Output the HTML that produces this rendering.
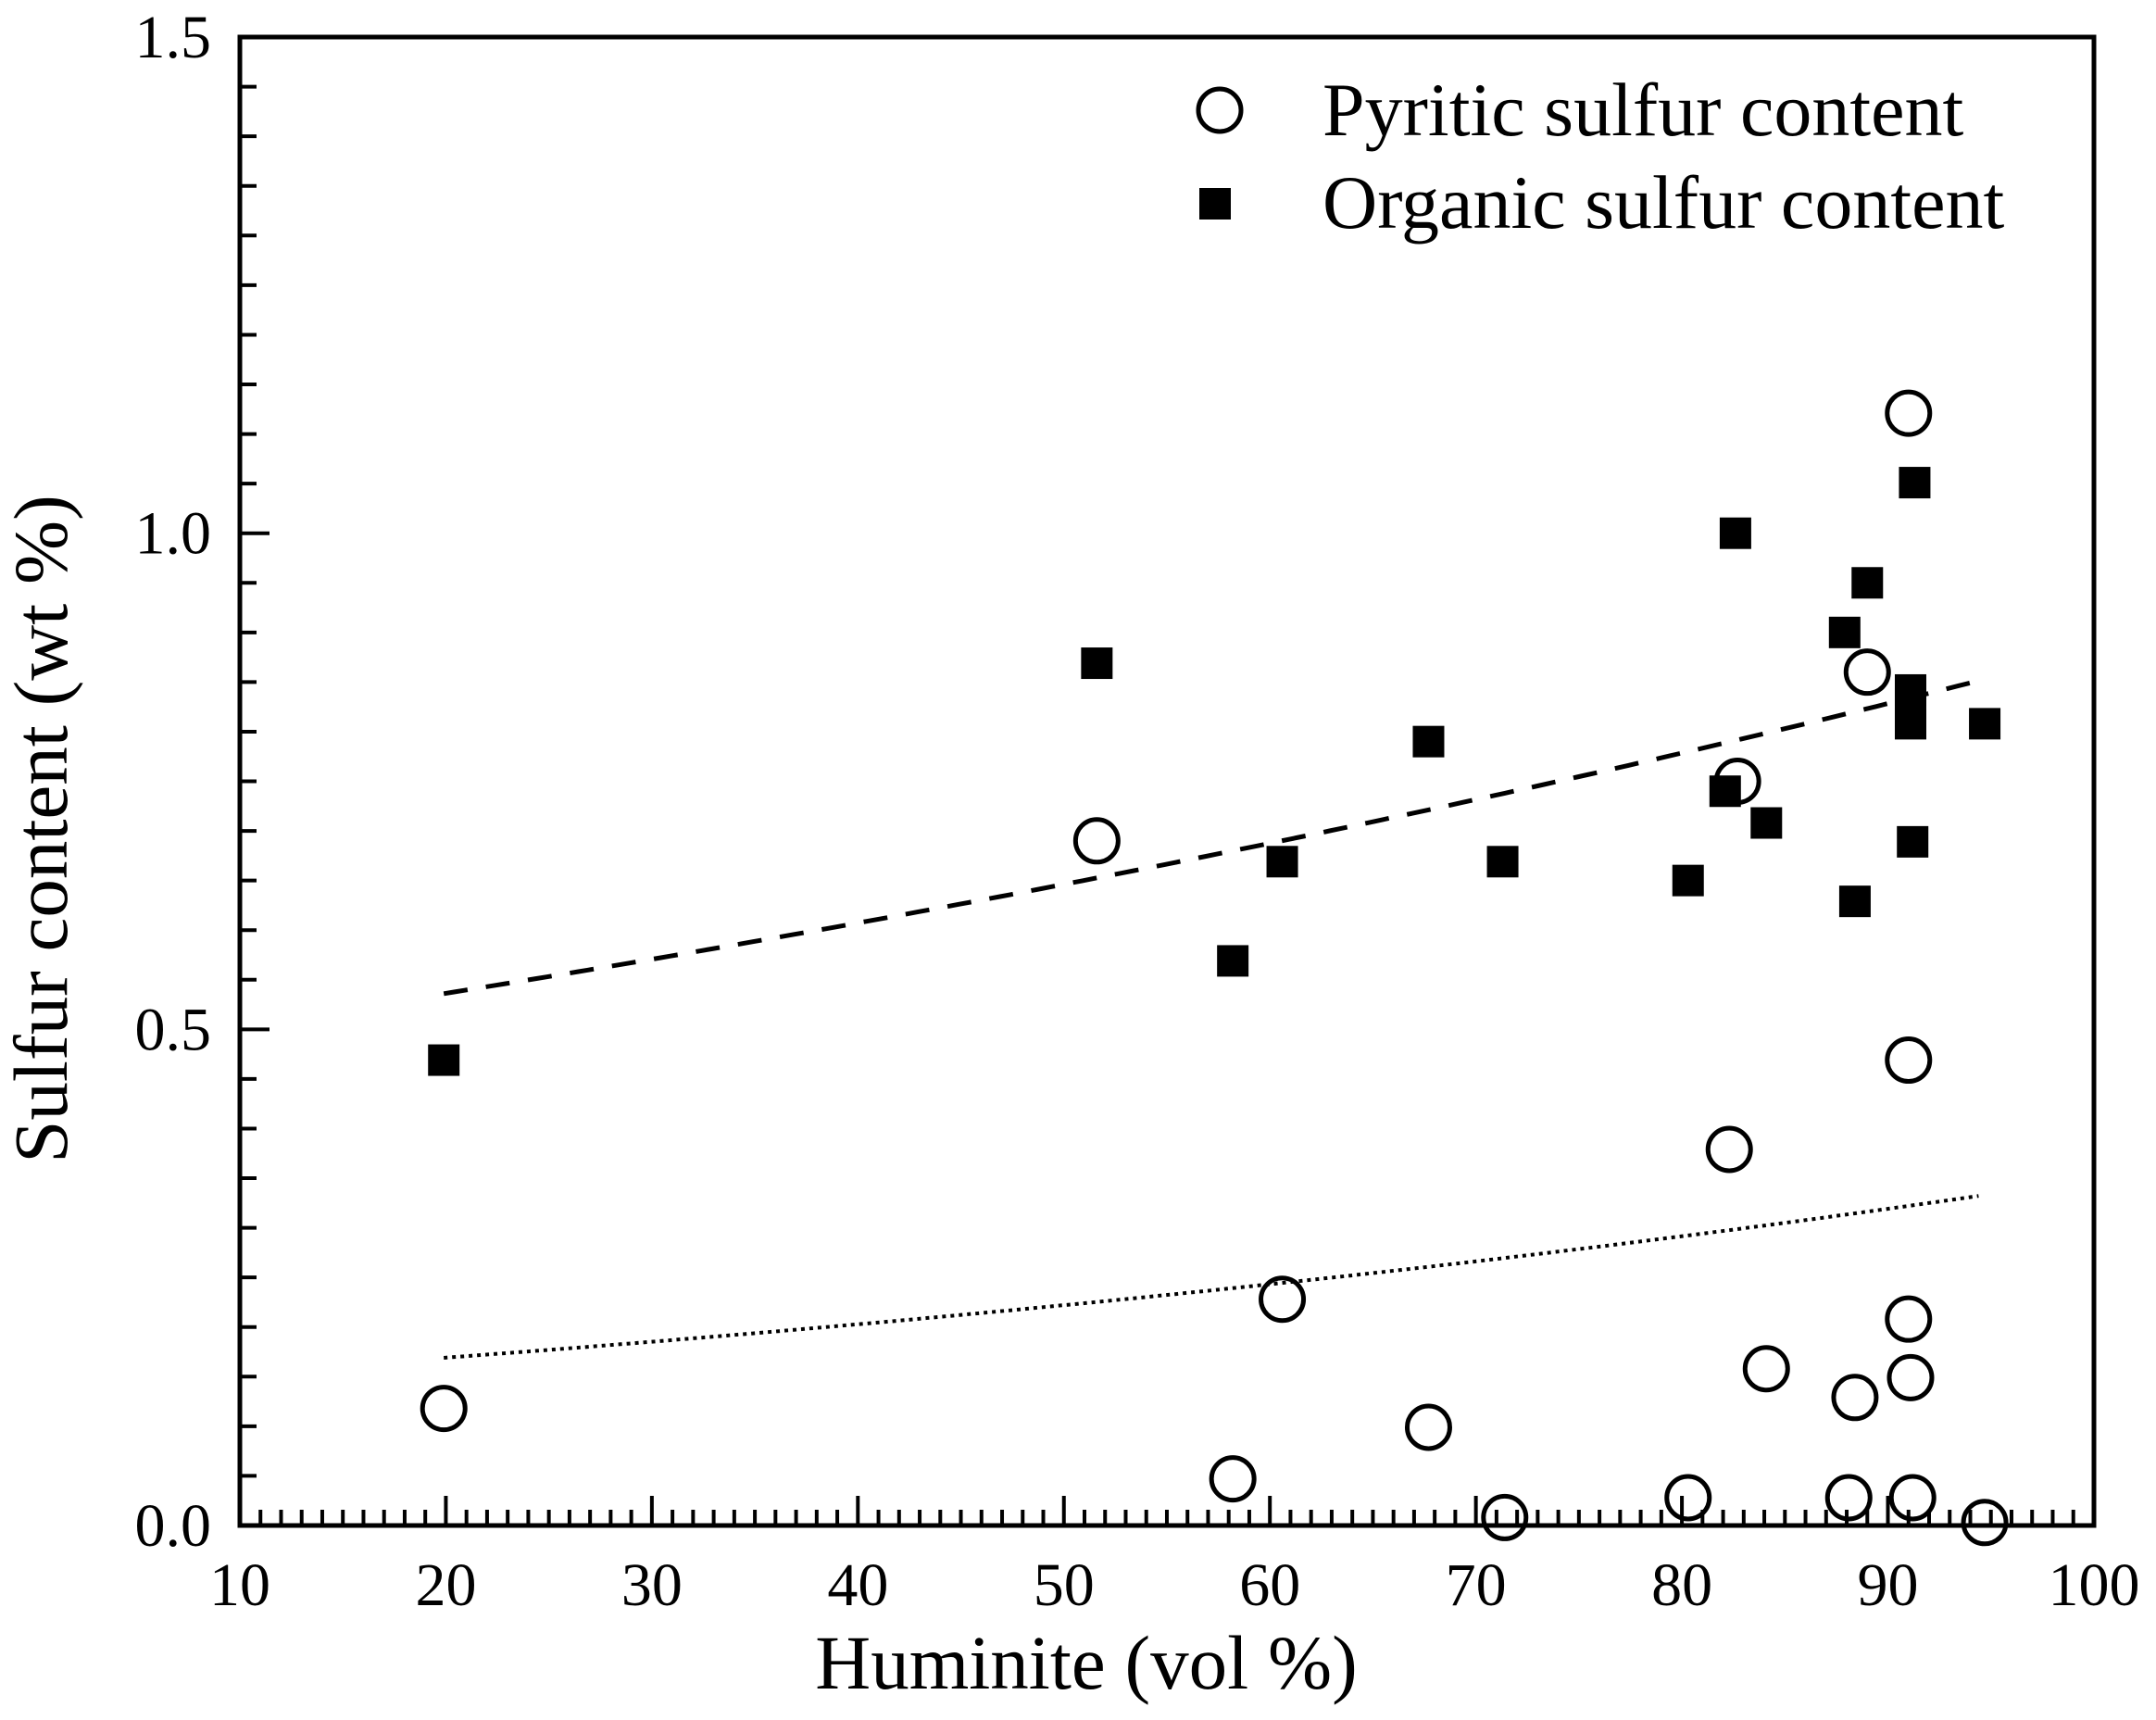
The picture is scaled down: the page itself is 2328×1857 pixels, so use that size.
<!DOCTYPE html>
<html><head><meta charset="utf-8"><style>
html,body{margin:0;padding:0;background:#fff;}
svg{display:block;}
text{font-family:"Liberation Serif",serif;fill:#000;}
</style></head><body>
<svg id="s" width="2328" height="1857" viewBox="0 0 2328 1857" xmlns="http://www.w3.org/2000/svg">
<rect width="2328" height="1857" fill="#fff"/>
<g id="g"></g>
<text x="1173" y="1823" font-size="83" text-anchor="middle">Huminite (vol %)</text>
<text transform="translate(72,895) rotate(-90)" font-size="83" text-anchor="middle">Sulfur content (wt %)</text>
<circle cx="1317" cy="119" r="23" fill="none" stroke="#000" stroke-width="5"/>
<rect x="1295" y="203" width="34" height="34" fill="#000"/>
<text x="1428" y="146" font-size="82">Pyritic sulfur content</text>
<text x="1428" y="246" font-size="82">Organic sulfur content</text>
</svg>
<script>
var NS="http://www.w3.org/2000/svg",g=document.getElementById("g");
function X(v){return 259+(v-10)*22.244;}
function Y(v){return 1647-v*1071.3;}
function el(t,a,txt){var e=document.createElementNS(NS,t);for(var k in a)e.setAttribute(k,a[k]);if(txt!==undefined)e.textContent=txt;g.appendChild(e);return e;}
for(var i=10;i<=100;i++){var L=(i%10==0)?32:17;if(i==10||i==100)continue;el("line",{x1:X(i),x2:X(i),y1:1647,y2:1647-L,stroke:"#000","stroke-width":4});}
for(var i=10;i<=100;i+=10){el("text",{x:X(i),y:1733,"font-size":66,"text-anchor":"middle"},String(i));}
for(var j=1;j<30;j++){var v=j*0.05;var L=(j%10==0)?32:18;el("line",{x1:259,x2:259+L,y1:Y(v),y2:Y(v),stroke:"#000","stroke-width":4});}
["0.0","0.5","1.0","1.5"].forEach(function(s,k){el("text",{x:228,y:Y(k*0.5)+22,"font-size":66,"text-anchor":"end"},s);});
el("rect",{x:259,y:40,width:2002,height:1607,fill:"none",stroke:"#000","stroke-width":5});
function curve(a,b){var p=[];for(var x=19.9;x<=94.4;x+=0.5){p.push(X(x).toFixed(1)+","+Y(a*Math.exp(b*(x-19.9))).toFixed(1));}return p.join(" ");}
el("polyline",{points:curve(0.536,0.00621),fill:"none",stroke:"#000","stroke-width":5,"stroke-dasharray":"26,20"});
el("polyline",{points:curve(0.169,0.00907),fill:"none",stroke:"#000","stroke-width":4,"stroke-dasharray":"4,5"});
var sq=[[19.9,.469],[51.6,.869],[58.2,.569],[60.6,.669],[67.7,.79],[71.3,.669],[80.3,.65],[82.1,.74],[82.6,1.0],[84.1,.708],[87.9,.9],[88.4,.629],[89.0,.95],[91.1,.842],[91.1,.828],[91.1,.808],[91.2,.689],[91.3,1.051],[94.7,.808]];
sq.forEach(function(p){el("rect",{x:X(p[0])-17,y:Y(p[1])-17,width:34,height:34,fill:"#000"});});
var ci=[[19.9,.118],[51.6,.69],[58.2,.047],[60.6,.228],[67.7,.099],[71.4,.008],[80.3,.028],[82.3,.379],[82.7,.75],[84.1,.158],[88.4,.129],[88.1,.028],[89.0,.86],[91.0,1.121],[91.0,.469],[91.0,.208],[91.1,.149],[91.2,.028],[94.7,.003]];
ci.forEach(function(p){el("circle",{cx:X(p[0]),cy:Y(p[1]),r:23,fill:"none",stroke:"#000","stroke-width":5});});
</script>
</body></html>
